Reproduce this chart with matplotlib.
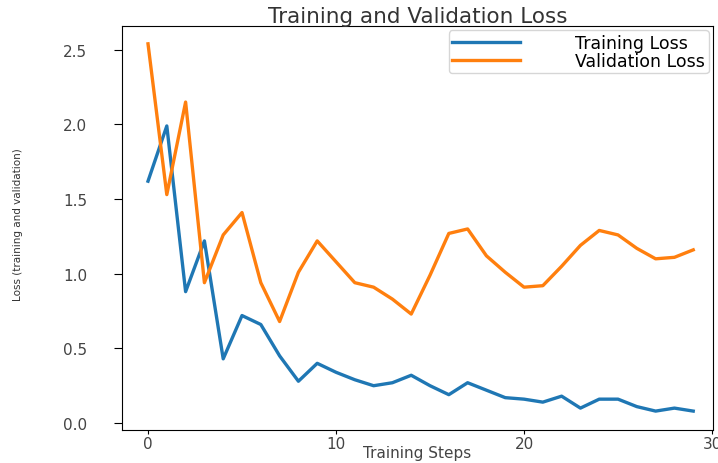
import matplotlib
matplotlib.use("Agg")
import matplotlib.pyplot as plt

# values
steps = list(range(30))
train_loss = [1.62, 1.99, 0.88, 1.22, 0.43, 0.72, 0.66, 0.45, 0.28, 0.40,
              0.34, 0.29, 0.25, 0.27, 0.32, 0.25, 0.19, 0.27, 0.22, 0.17,
              0.16, 0.14, 0.18, 0.10, 0.16, 0.16, 0.11, 0.08, 0.10, 0.08]
val_loss = [2.54, 1.53, 2.15, 0.94, 1.26, 1.41, 0.94, 0.68, 1.01, 1.22,
            1.08, 0.94, 0.91, 0.83, 0.73, 0.99, 1.27, 1.30, 1.12, 1.01,
            0.91, 0.92, 1.05, 1.19, 1.29, 1.26, 1.17, 1.10, 1.11, 1.16]
x_ticks = [0, 10, 20, 30]
y_ticks = [0.0, 0.5, 1.0, 1.5, 2.0, 2.5]

fig = plt.figure(figsize=(7.18, 4.64), dpi=100)
ax = fig.add_axes([0.170, 0.071, 0.823, 0.871])

ax.plot(steps, train_loss, color="#1f77b4", lw=2.4, label="Training Loss")
ax.plot(steps, val_loss, color="#ff7f0e", lw=2.4, label="Validation Loss")

ax.set_xlim(-1.38, 30.05)
ax.set_ylim(-0.047, 2.66)
ax.set_xticks(x_ticks)
ax.set_yticks(y_ticks)
ax.set_yticklabels([f"{v:.1f}" for v in y_ticks])
ax.tick_params(axis="y", labelsize=11, length=6, pad=19, labelcolor="#444444")
ax.tick_params(axis="x", labelsize=11, length=3, pad=1, labelcolor="#444444")

ax.set_title("Training and Validation Loss", fontsize=15.5, pad=0.5, color="#333333")
ax.set_xlabel("Training Steps", fontsize=11, color="#444444")
ax.xaxis.set_label_coords(0.5, -0.037)
ax.set_ylabel("Loss (training and validation)", fontsize=7.5,
              family=["DejaVu Sans Condensed", "Liberation Sans Narrow", "DejaVu Sans"],
              color="#333333")
ax.yaxis.set_label_coords(-0.168, 0.51)

ax.legend(loc="upper right", fontsize=12.5, handlelength=3.9,
          labelspacing=0.0, borderpad=0.2, handletextpad=3.2,
          borderaxespad=0.25)

fig.savefig("out.png", dpi=100)
